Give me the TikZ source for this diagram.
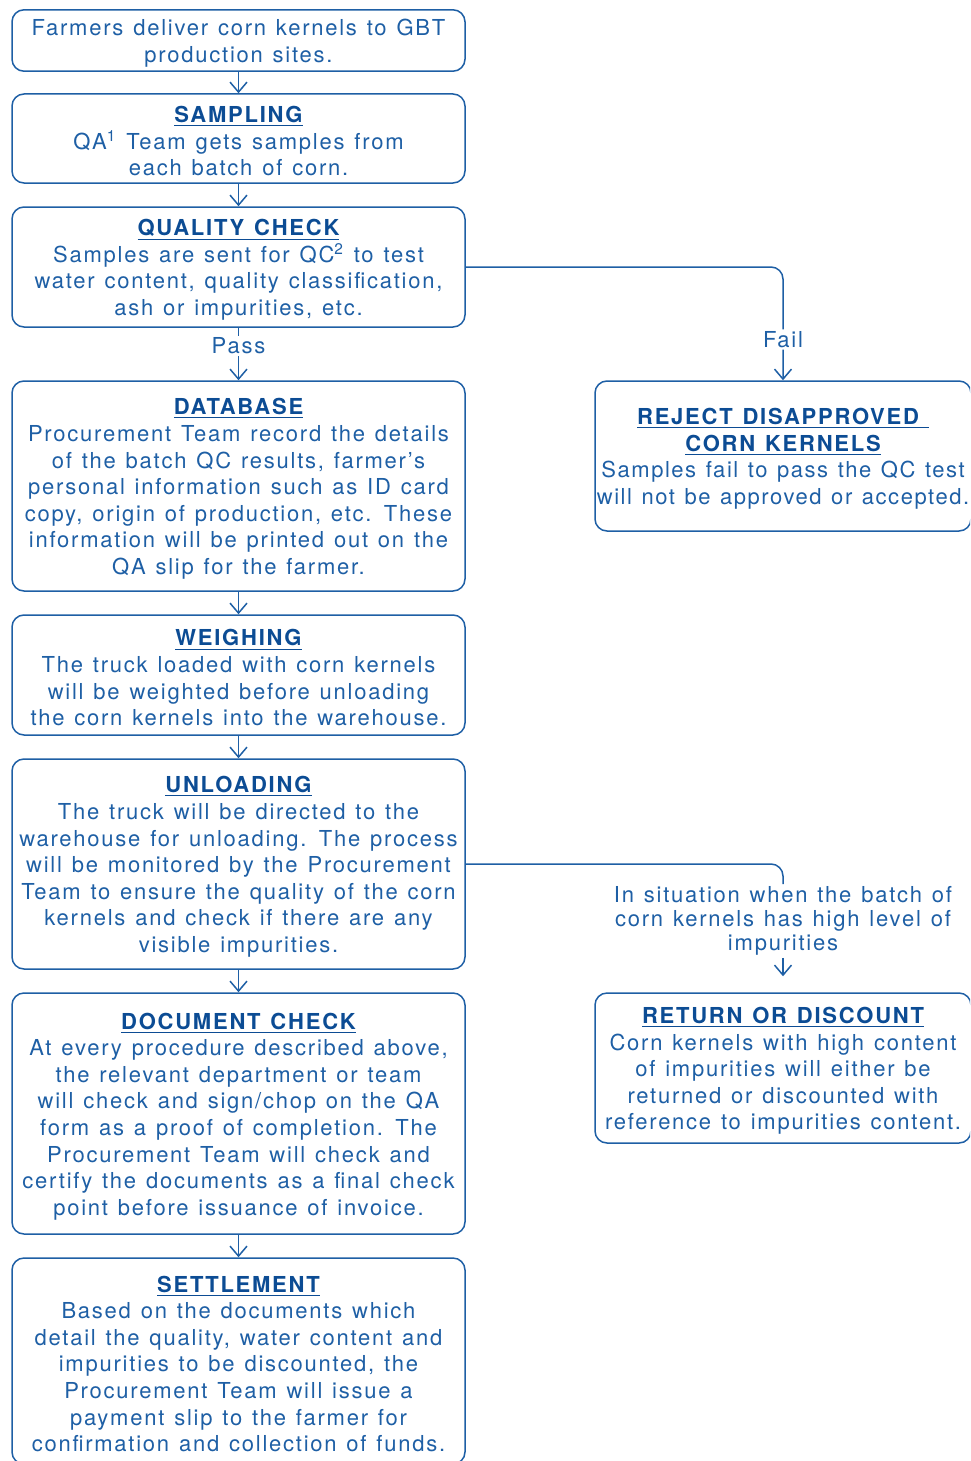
\documentclass[tikz,border=0pt]{standalone}
\usepackage{fontspec}
\setmainfont{TeX Gyre Heros}[LetterSpace=8, WordSpace=1.25]
\usetikzlibrary{arrows.meta}

\definecolor{lineblue}{RGB}{30,95,165}
\definecolor{headblue}{RGB}{12,76,148}
\newcommand{\toprule}{\rule{0pt}{11pt}}
\newcommand{\stephead}[1]{\toprule{\color{headblue}\bfseries\underline{#1}}}
\newcommand{\tightline}[1]{{\addfontfeature{LetterSpace=7}#1}}

\tikzset{
  stepbox/.style={draw=lineblue, line width=0.75pt, rounded corners=6pt,
    align=center, text=lineblue, minimum width=226.5pt, inner sep=2pt,
    font=\fontsize{11pt}{13.3pt}\selectfont},
  sidebox/.style={stepbox, minimum width=188pt, inner xsep=0pt},
  flowarrow/.style={draw=lineblue, line width=0.75pt,
    -{Straight Barb[length=5pt,width=8.5pt]}},
  branch/.style={flowarrow, rounded corners=6pt},
  edgelabel/.style={fill=white, text=lineblue, inner sep=1pt,
    font=\fontsize{11pt}{13.3pt}\selectfont}
}

\begin{document}
\begin{tikzpicture}[x=0.5pt, y=-0.5pt]

  \clip (0,0) rectangle (970,1461);

  % main column
  \node[stepbox, minimum height=29.5pt] (farmers) at (238.5,40.5)
  {\toprule Farmers deliver corn kernels to GBT\\production sites.};
  \node[stepbox, minimum height=44.5pt] (sampling) at (238.5,138.5)
  {\stephead{SAMPLING}\\QA\textsuperscript{1} Team gets samples from\\each batch of corn.};
  \node[stepbox, minimum height=60pt] (qcheck) at (238.5,267)
  {\stephead{QUALITY CHECK}\\Samples are sent for QC\textsuperscript{2} to test\\
    water content, quality classification,\\ash or impurities, etc.};
  \node[stepbox, minimum height=105pt] (database) at (238.5,486)
  {\stephead{DATABASE}\\Procurement Team record the details\\
    of the batch QC results, farmer's\\personal information such as ID card\\
    copy, origin of production, etc. These\\information will be printed out on the\\
    QA slip for the farmer.};
  \node[stepbox, minimum height=60pt] (weighing) at (238.5,675)
  {\stephead{WEIGHING}\\The truck loaded with corn kernels\\
    will be weighted before unloading\\the corn kernels into the warehouse.};
  \node[stepbox, minimum height=105pt] (unloading) at (238.5,864)
  {\stephead{UNLOADING}\\The truck will be directed to the\\
    warehouse for unloading. The process\\will be monitored by the Procurement\\
    Team to ensure the quality of the corn\\kernels and check if there are any\\
    visible impurities.};
  \node[stepbox, minimum height=120.5pt] (doccheck) at (238.5,1113.5)
  {\stephead{DOCUMENT CHECK}\\At every procedure described above,\\
    the relevant department or team\\will check and sign/chop on the QA\\
    form as a proof of completion. The\\Procurement Team will check and\\
    certify the documents as a final check\\point before issuance of invoice.};
  \node[stepbox, minimum height=103pt] (settlement) at (238.5,1361)
  {\stephead{SETTLEMENT}\\Based on the documents which\\
    detail the quality, water content and\\impurities to be discounted, the\\
    Procurement Team will issue a\\payment slip to the farmer for\\
    confirmation and collection of funds.};

  % side column
  \node[sidebox, minimum height=75pt] (reject) at (783,456)
  {\stephead{REJECT DISAPPROVED\ }\\\stephead{CORN KERNELS}\\
    \tightline{Samples fail to pass the QC test}\\
    \tightline{will not be approved or accepted.}};
  \node[align=center, text=lineblue, inner sep=1pt,
    font=\fontsize{11pt}{12pt}\selectfont] (impure) at (783,921)
  {In situation when the batch of\\corn kernels has high level of\\impurities};
  \node[sidebox, minimum height=75pt] (discount) at (783,1068)
  {\stephead{RETURN OR DISCOUNT}\\Corn kernels with high content\\
    of impurities will either be\\returned or discounted with\\
    reference to impurities content.};

  \draw[flowarrow] (farmers) -- (sampling);
  \draw[flowarrow] (sampling) -- (qcheck);
  \draw[flowarrow] (qcheck) -- node[edgelabel, pos=0.35]{Pass} (database);
  \draw[flowarrow] (database) -- (weighing);
  \draw[flowarrow] (weighing) -- (unloading);
  \draw[flowarrow] (unloading) -- (doccheck);
  \draw[flowarrow] (doccheck) -- (settlement);

  \draw[branch] (qcheck.east) -| node[edgelabel, pos=0.82]{Fail} (reject.north);
  \draw[draw=lineblue, line width=0.75pt, rounded corners=6pt]
  (unloading.east) -| (impure.north);
  \draw[flowarrow, shorten >=8pt] (impure) -- (discount);

\end{tikzpicture}
\end{document}
